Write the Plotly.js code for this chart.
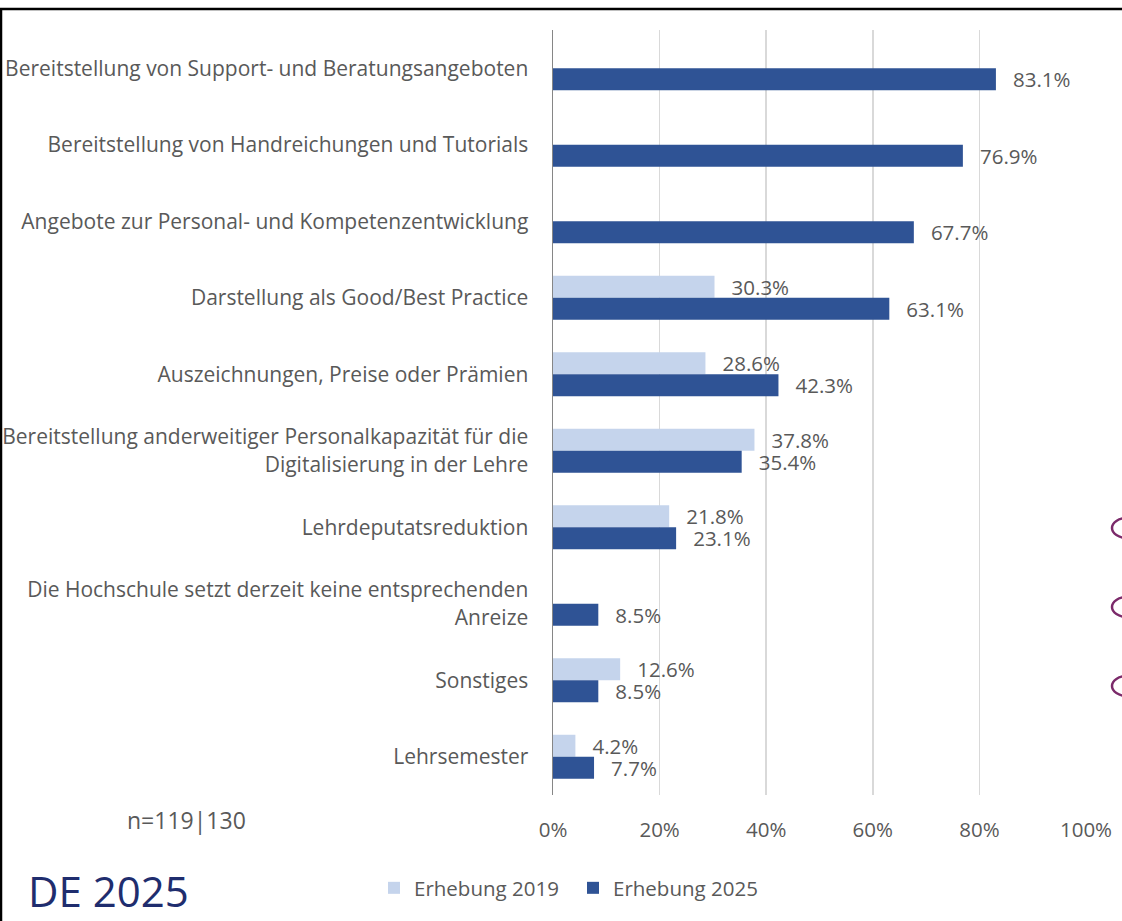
<!DOCTYPE html>
<html>
<head>
<meta charset="utf-8">
<script src="https://cdn.plot.ly/plotly-3.0.1.min.js"></script>
<style>html,body{margin:0;padding:0;background:#fff;}#chart{width:1122px;height:921px;}</style>
</head>
<body>
<div id="chart"></div>
<script>
const categories = [
  "Bereitstellung von Support- und Beratungsangeboten",
  "Bereitstellung von Handreichungen und Tutorials",
  "Angebote zur Personal- und Kompetenzentwicklung",
  "Darstellung als Good/Best Practice",
  "Auszeichnungen, Preise oder Prämien",
  "Bereitstellung anderweitiger Personalkapazität für die<br>Digitalisierung in der Lehre",
  "Lehrdeputatsreduktion",
  "Die Hochschule setzt derzeit keine entsprechenden<br>Anreize",
  "Sonstiges",
  "Lehrsemester"
];
const values2019 = [null, null, null, 30.3, 28.6, 37.8, 21.8, null, 12.6, 4.2];
const values2025 = [83.1, 76.9, 67.7, 63.1, 42.3, 35.4, 23.1, 8.5, 8.5, 7.7];
const seriesNames = ["Erhebung 2019", "Erhebung 2025"];
const tickVals = [0, 20, 40, 60, 80, 100];
const tickText = ["0%", "20%", "40%", "60%", "80%", "100%"];

const W = 1122, H = 921;
const mL = 553, mR = 36, mT = 30, mB = 126;
const pw = W - mL - mR, ph = H - mT - mB;
const px = p => (p - mL) / pw;
const py = q => (H - mB - q) / ph;

const FONT = "Open Sans, Noto Sans, sans-serif";
const GREY = "#595959";
const FS = 20.5;

const common = {
  type: "bar", orientation: "h", y: categories,
  texttemplate: "\u00a0\u00a0\u2009%{x:.1f}%", textposition: "outside",
  textfont: {family: FONT, size: FS, color: GREY},
  constraintext: "none", cliponaxis: false, hoverinfo: "x+y"
};
const traces = [
  Object.assign({}, common, {name: seriesNames[0], x: values2019, marker: {color: "#c5d4ec"}}),
  Object.assign({}, common, {name: seriesNames[1], x: values2025, marker: {color: "#2f5395"}})
];

const arcs = [528, 607, 686].map(c => ({
  type: "circle", xref: "paper", yref: "paper",
  xsizemode: "pixel", ysizemode: "pixel",
  xanchor: px(1112), yanchor: py(c),
  x0: 0, x1: 30, y0: -10, y1: 10,
  line: {color: "#7b2a6a", width: 2.5}
}));

const layout = {
  width: W, height: H,
  margin: {l: mL, r: mR, t: mT, b: mB},
  paper_bgcolor: "#fff", plot_bgcolor: "#fff",
  barmode: "group", bargap: 0.425, bargroupgap: 0,
  font: {family: FONT, color: GREY, size: FS},
  showlegend: true,
  legend: {orientation: "h", x: px(374), xanchor: "left", y: py(868), yanchor: "top",
    font: {family: FONT, size: FS, color: GREY}, traceorder: "normal", itemwidth: 30,
    entrywidth: 154, entrywidthmode: "pixels"},
  xaxis: {range: [0, 100], tickvals: tickVals, ticktext: tickText, showgrid: true,
    gridcolor: "#d9d9d9", gridwidth: 1.5, zeroline: false, showline: false,
    ticks: "", ticklabelstandoff: 20, tickfont: {family: FONT, size: FS, color: GREY}, fixedrange: true},
  yaxis: {autorange: "reversed", type: "category", showgrid: false, zeroline: false,
    showline: true, linecolor: "#868686", linewidth: 1.5, ticks: "",
    ticklabelstandoff: 19, tickfont: {family: FONT, size: 21, color: GREY}, fixedrange: true},
  annotations: [
    {xref: "paper", yref: "paper", x: px(186), y: py(820), xanchor: "center", yanchor: "middle",
      text: "n=119|130", showarrow: false, font: {family: FONT, size: 23, color: GREY}},
    {xref: "paper", yref: "paper", x: px(26), y: py(890), xanchor: "left", yanchor: "middle",
      text: "DE 2025", showarrow: false, font: {family: FONT, size: 42, color: "#1f2d6e"}}
  ],
  shapes: [
    {type: "line", xref: "paper", yref: "paper", x0: px(0), x1: px(W), y0: py(9), y1: py(9),
      line: {color: "#000", width: 2.5}},
    {type: "line", xref: "paper", yref: "paper", x0: px(1), x1: px(1), y0: py(9), y1: py(H),
      line: {color: "#000", width: 2.5}}
  ].concat(arcs)
};

Plotly.newPlot("chart", traces, layout, {displayModeBar: false, staticPlot: true});
</script>
</body>
</html>
